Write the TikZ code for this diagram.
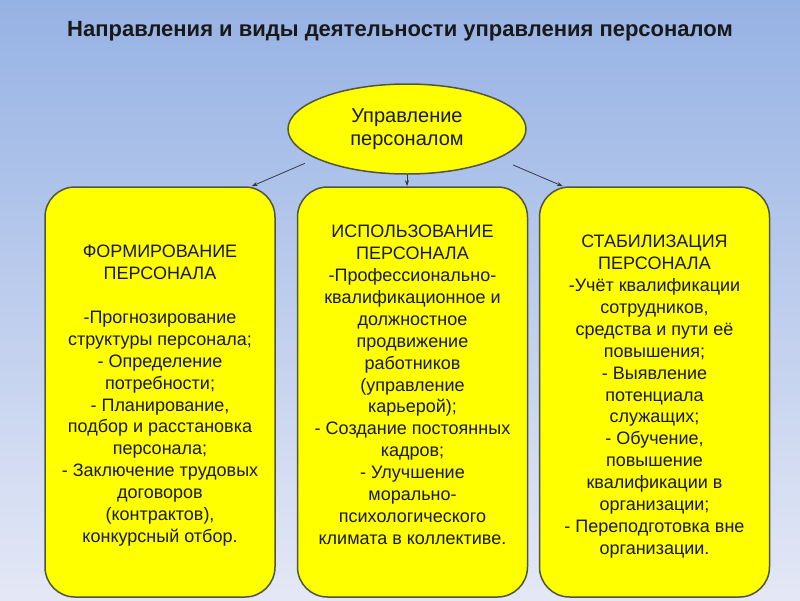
\documentclass[tikz,border=0pt]{standalone}
\usepackage{fontspec}
\setmainfont{Liberation Sans}
\usetikzlibrary{shapes.geometric,arrows.meta}
\definecolor{bgtop}{RGB}{150,178,228}
\definecolor{bgbot}{RGB}{228,232,246}
\definecolor{boxfill}{RGB}{255,255,0}
\definecolor{boxline}{RGB}{80,85,65}
\definecolor{arrline}{RGB}{50,55,80}
\definecolor{txt}{RGB}{25,25,25}

\tikzset{
  area/.style={draw=boxline, fill=boxfill, line width=1.5pt, rounded corners=30pt,
    minimum width=230pt, minimum height=410pt},
  areatext/.style={anchor=north, align=center, inner sep=0pt, text=txt,
    font=\fontsize{18}{21.9}\selectfont},
  link/.style={-{Stealth[length=6pt,width=4pt]}, arrline, line width=0.8pt},
}

\begin{document}
\begin{tikzpicture}[x=1pt,y=-1pt]
  \useasboundingbox (0,0) rectangle (800,600);
  \shade[top color=bgtop, bottom color=bgbot] (0,0) rectangle (800,600);

  \node[text=txt, font=\fontsize{22}{26}\selectfont\bfseries] (title) at (400,31)
    {Направления и виды деятельности управления персоналом};

  \node[ellipse, draw=boxline, fill=boxfill, line width=1.5pt, minimum width=238pt,
    minimum height=90pt, align=center, text=txt, inner sep=0pt,
    font=\fontsize{20}{23}\selectfont] (upr) at (407,129) {Управление\\персоналом};

  % three areas
  \node[area] (form) at (160,392) {};
  \node[area] (isp) at (412.5,392) {};
  \node[area] (stab) at (654.5,392) {};

  \node[areatext] (formtxt) at (160,245) {ФОРМИРОВАНИЕ\\ПЕРСОНАЛА\\[21.9pt]
    -Прогнозирование\\структуры персонала;\\- Определение\\потребности;\\
    - Планирование,\\подбор и расстановка\\персонала;\\- Заключение трудовых\\
    договоров\\(контрактов),\\конкурсный отбор.};
  \node[areatext] (isptxt) at (412.5,225) {ИСПОЛЬЗОВАНИЕ\\ПЕРСОНАЛА\\
    -Профессионально-\\квалификационное и\\должностное\\продвижение\\работников\\
    (управление\\карьерой);\\- Создание постоянных\\кадров;\\- Улучшение\\
    морально-\\психологического\\климата в коллективе.};
  \node[areatext] (stabtxt) at (654.5,235) {СТАБИЛИЗАЦИЯ\\ПЕРСОНАЛА\\
    -Учёт квалификации\\сотрудников,\\средства и пути её\\повышения;\\
    - Выявление\\потенциала\\служащих;\\- Обучение,\\повышение\\
    квалификации в\\организации;\\- Переподготовка вне\\организации.};

  \draw[link, shorten <=12pt] (upr.198) -- (form.66);
  \draw[link] (upr.south) -- (upr.south |- isp.north);
  \draw[link, shorten <=16pt] (upr.342) -- (stab.114);
\end{tikzpicture}
\end{document}
